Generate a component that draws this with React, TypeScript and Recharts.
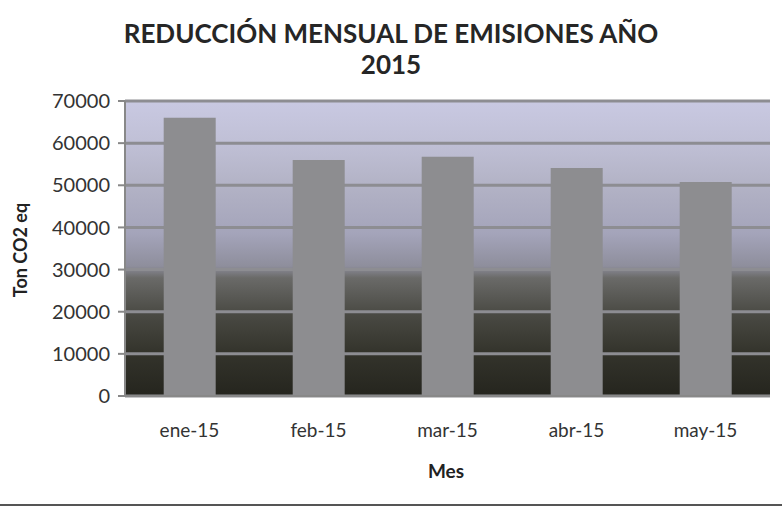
import { BarChart, Bar, XAxis, YAxis, CartesianGrid } from "recharts";

const months = ["ene-15", "feb-15", "mar-15", "abr-15", "may-15"];
const reductions = [66000, 56000, 56800, 54100, 50800];
const yTicks = [0, 10000, 20000, 30000, 40000, 50000, 60000, 70000];

const data = months.map((m, i) => ({ mes: m, ton: reductions[i] }));

const font = "Lato, 'Open Sans', sans-serif";

export default function App() {
  return (
    <div style={{ position: "absolute", left: 0, top: 0, width: 782, height: 512, background: "#fff", fontFamily: font, overflow: "hidden" }}>
      <div style={{ position: "absolute", top: 18, left: 0, width: 782, textAlign: "center", fontWeight: 700, fontSize: 26, lineHeight: "31px", color: "#262626" }}>
        <div>REDUCCIÓN MENSUAL DE EMISIONES AÑO</div>
        <div>2015</div>
      </div>
      <BarChart
        width={782}
        height={512}
        data={data}
        margin={{ top: 101, right: 12, bottom: 86, left: 0 }}
        barCategoryGap="30%"
      >
        <defs>
          <linearGradient id="bg" x1="0" y1="0" x2="0" y2="1">
            <stop offset="0" stopColor="#c9c9e2" />
            <stop offset="0.14" stopColor="#c0c0d6" />
            <stop offset="0.28" stopColor="#b3b3c6" />
            <stop offset="0.45" stopColor="#a4a4ba" />
            <stop offset="0.56" stopColor="#8e8e9c" />
            <stop offset="0.6" stopColor="#6a6a68" />
            <stop offset="0.72" stopColor="#4a4a44" />
            <stop offset="0.85" stopColor="#34342c" />
            <stop offset="1" stopColor="#25251e" />
          </linearGradient>
        </defs>
        <CartesianGrid vertical={false} fill="url(#bg)" fillOpacity={1} stroke="#8d8d92" strokeWidth={3} />
        <XAxis
          dataKey="mes"
          height={30}
          axisLine={{ stroke: "#888", strokeWidth: 2 }}
          tickLine={false}
          tickMargin={22}
          tick={{ fill: "#333", fontSize: 19, fontFamily: font }}
        />
        <YAxis
          width={125}
          domain={[0, 70000]}
          ticks={yTicks}
          interval={0}
          axisLine={{ stroke: "#888", strokeWidth: 2 }}
          tickLine={{ stroke: "#888", strokeWidth: 2 }}
          tickSize={7}
          tickMargin={8}
          tick={{ fill: "#333", fontSize: 20, fontFamily: font }}
        />
        <Bar dataKey="ton" fill="#8d8d90" isAnimationActive={false} />
      </BarChart>
      <div style={{ position: "absolute", left: 20, top: 250, transform: "translate(-50%, -50%) rotate(-90deg)", fontWeight: 700, fontSize: 18, color: "#222", whiteSpace: "nowrap" }}>
        Ton CO2 eq
      </div>
      <div style={{ position: "absolute", left: 446, top: 470, transform: "translate(-50%, -50%)", fontWeight: 700, fontSize: 19, color: "#222" }}>
        Mes
      </div>
      <div style={{ position: "absolute", left: 0, top: 504, width: 782, height: 2, background: "#555" }} />
    </div>
  );
}
